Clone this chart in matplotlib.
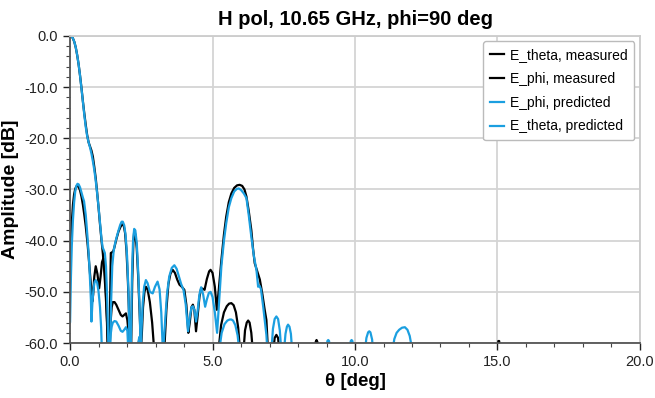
import numpy as np
import matplotlib
matplotlib.use('Agg')
import matplotlib.pyplot as plt
from matplotlib.ticker import MultipleLocator, FormatStrFormatter

plt.rcParams['font.family'] = ['Liberation Sans', 'DejaVu Sans']

# cross-pol, measured
th_theta_meas = [0.0, 0.03, 0.06, 0.1, 0.14, 0.18, 0.22, 0.26, 0.3, 0.35, 0.4, 0.45, 0.5, 0.55, 0.62,
                 0.7, 0.75, 0.78, 0.81, 0.85, 0.9, 0.96, 1.02, 1.07, 1.12, 1.17, 1.21, 1.25, 1.29, 1.32,
                 1.39, 1.42, 1.46, 1.5, 1.56, 1.62, 1.7, 1.78, 1.84, 1.9, 1.96, 2.01, 2.06, 2.1,
                 2.38, 2.41, 2.43, 2.45, 2.48,
                 5.2, 5.3, 5.4, 5.5, 5.58, 5.66, 5.74, 5.82, 5.9, 5.97,
                 6.08, 6.14, 6.2, 6.25, 6.3, 6.36, 6.42]
db_theta_meas = [-45.7, -40.5, -36.5, -33.0, -31.0, -29.9, -29.4, -29.3, -29.5, -30.2, -31.4, -33.0, -35.0, -37.2, -41.0,
                 -46.5, -49.8, -51.9, -50.5, -47.0, -45.0, -46.5, -49.3, -47.0, -44.2, -43.4, -45.0, -49.0, -55.0, -61.0,
                 -61.0, -56.0, -53.0, -52.0, -52.0, -52.5, -53.5, -54.5, -54.8, -54.5, -54.2, -55.5, -58.5, -62.0,
                 -62.0, -59.8, -59.2, -59.8, -62.0,
                 -62.0, -56.5, -54.0, -52.8, -52.3, -52.2, -52.6, -54.0, -57.0, -62.0,
                 -62.0, -57.5, -56.0, -55.6, -56.0, -58.0, -62.0]

# co-pol, measured
th_phi_meas = [0.0, 0.05, 0.1, 0.15, 0.2, 0.25, 0.3, 0.35, 0.4, 0.45, 0.5, 0.55, 0.6, 0.65, 0.7,
               0.75, 0.8, 0.85, 0.9, 0.95, 1.0, 1.05, 1.1, 1.15, 1.2, 1.25, 1.3, 1.34,
               1.38, 1.41, 1.43, 1.47, 1.52, 1.56, 1.62, 1.7, 1.78, 1.84, 1.88, 1.93, 1.98, 2.03, 2.08, 2.11,
               2.14, 2.18, 2.22, 2.25, 2.29, 2.34, 2.39, 2.44, 2.49,
               2.52, 2.56, 2.61, 2.66, 2.72, 2.8, 2.88, 2.96,
               3.3, 3.38, 3.45, 3.52, 3.6, 3.68, 3.76, 3.84, 3.92, 4.01, 4.08, 4.15,
               4.2, 4.26, 4.31, 4.36, 4.42, 4.48, 4.54, 4.6, 4.66, 4.72, 4.8, 4.88, 4.93, 5.0, 5.08, 5.15,
               5.22, 5.31, 5.4, 5.48, 5.57, 5.66, 5.76, 5.86, 5.95, 6.04, 6.12, 6.19, 6.27, 6.36, 6.42,
               6.48, 6.57, 6.66, 6.75, 6.83, 6.89, 6.95,
               7.12, 7.18, 7.24, 7.3, 7.35,
               8.58, 8.62, 8.65, 8.68, 8.72,
               15.0, 15.03, 15.06, 15.09]
db_phi_meas = [0.0, -0.1, -0.5, -1.2, -2.3, -3.8, -5.6, -7.8, -10.2, -12.8, -15.2, -17.4, -19.4, -20.8, -21.6,
               -22.4, -23.6, -25.6, -27.8, -30.6, -33.6, -36.8, -39.8, -42.5, -46.0, -50.5, -56.0, -62.0,
               -62.0, -50.0, -42.4, -42.3, -42.0, -41.2, -39.8, -38.2, -37.2, -36.8, -37.0, -38.5, -42.0, -48.0, -56.0, -62.0,
               -62.0, -48.0, -40.5, -38.2, -38.8, -41.5, -47.0, -54.0, -61.0,
               -58.0, -53.0, -50.0, -49.0, -49.5, -52.0, -56.0, -62.0,
               -62.0, -53.5, -48.5, -46.5, -45.7, -46.3, -47.6, -48.6, -49.0, -49.6, -52.5, -58.0,
               -56.0, -53.0, -52.5, -53.5, -57.7, -54.5, -51.0, -49.3, -49.4, -49.6, -47.5, -46.0, -45.7, -46.3, -49.0, -53.5,
               -49.5, -43.8, -38.8, -35.3, -32.5, -30.8, -29.7, -29.2, -29.1, -29.3, -30.0, -31.4, -34.2, -37.9, -41.5,
               -44.4, -46.0, -47.6, -50.5, -53.5, -55.5, -62.0,
               -62.0, -59.0, -58.4, -59.0, -62.0,
               -62.0, -59.8, -59.4, -59.8, -62.0,
               -62.0, -59.6, -59.6, -62.0]

# co-pol, predicted
th_phi_pred = [0.0, 0.05, 0.1, 0.15, 0.2, 0.25, 0.3, 0.35, 0.4, 0.45, 0.5, 0.55, 0.6, 0.65, 0.7,
               0.75, 0.8, 0.85, 0.9, 0.95, 1.0, 1.05, 1.1, 1.14, 1.18, 1.22, 1.26, 1.3, 1.35,
               1.4, 1.44, 1.48, 1.53, 1.58, 1.64, 1.7, 1.76, 1.81, 1.85, 1.9, 1.95, 2.0, 2.05, 2.09,
               2.13, 2.17, 2.21, 2.25, 2.29, 2.34, 2.39, 2.44, 2.48,
               2.51, 2.55, 2.6, 2.66, 2.72, 2.8, 2.9, 2.98, 3.07, 3.14, 3.2, 3.26,
               3.32, 3.4, 3.48, 3.57, 3.66, 3.74, 3.82, 3.9, 3.98, 4.06, 4.14,
               4.2, 4.26, 4.31, 4.36, 4.42, 4.48, 4.54, 4.6, 4.67, 4.74, 4.8, 4.87, 4.93, 5.0, 5.08, 5.16,
               5.23, 5.31, 5.4, 5.48, 5.57, 5.66, 5.76, 5.85, 5.92, 6.0, 6.1, 6.19, 6.27, 6.36, 6.45,
               6.54, 6.6, 6.65, 6.7, 6.78, 6.85, 6.89, 6.93,
               7.06, 7.12, 7.18, 7.24, 7.3, 7.36, 7.42,
               7.5, 7.56, 7.61, 7.65, 7.7, 7.75, 7.8,
               9.0, 9.03, 9.06, 9.09, 9.12,
               9.82, 9.85, 9.88, 9.91, 9.94,
               10.34, 10.4, 10.46, 10.5, 10.54, 10.6, 10.64,
               11.3, 11.38, 11.46, 11.55, 11.65, 11.75, 11.84, 11.92, 11.98, 12.03]
db_phi_pred = [0.0, -0.1, -0.5, -1.2, -2.3, -3.8, -5.6, -7.8, -10.3, -13.0, -15.5, -17.8, -19.6, -20.8, -21.8,
               -23.0, -24.5, -26.2, -28.3, -30.8, -33.5, -36.5, -39.5, -41.3, -41.8, -42.4, -45.0, -51.0, -62.0,
               -62.0, -52.0, -45.0, -42.0, -40.5, -39.2, -38.0, -36.9, -36.3, -36.3, -37.0, -39.0, -43.0, -50.0, -62.0,
               -62.0, -47.0, -40.0, -37.7, -38.0, -40.5, -46.0, -53.0, -62.0,
               -57.0, -52.0, -49.0, -47.7, -48.3, -50.0, -50.3, -49.0, -48.0, -49.5, -54.0, -62.0,
               -57.0, -50.5, -47.0, -45.3, -44.8, -45.5, -47.0, -48.5, -49.6, -52.5, -57.7,
               -55.0, -53.0, -52.8, -53.5, -55.8, -53.5, -50.5, -49.1, -50.5, -52.9, -51.5, -50.2, -50.0, -51.0, -54.0, -58.0,
               -52.0, -45.0, -40.0, -36.6, -33.5, -31.7, -30.4, -29.9, -29.8, -30.1, -30.8, -31.7, -35.0, -39.2, -43.0,
               -45.7, -49.0, -48.8, -49.5, -53.0, -56.5, -58.4, -62.0,
               -62.0, -57.2, -55.3, -54.8, -55.3, -57.5, -62.0,
               -62.0, -58.2, -56.8, -56.4, -56.8, -58.2, -62.0,
               -62.0, -59.6, -59.4, -59.6, -62.0,
               -62.0, -59.6, -59.4, -59.6, -62.0,
               -62.0, -59.0, -57.9, -57.7, -57.9, -59.3, -62.0,
               -62.0, -59.2, -58.0, -57.4, -57.0, -56.9, -57.4, -58.6, -60.5, -62.0]

# cross-pol, predicted
th_theta_pred = [0.0, 0.03, 0.06, 0.1, 0.14, 0.18, 0.22, 0.26, 0.3, 0.35, 0.4, 0.45, 0.49, 0.55, 0.61,
                 0.66, 0.7, 0.73, 0.75, 0.78, 0.82, 0.86, 0.9, 0.95, 1.0, 1.05, 1.09, 1.12,
                 1.38, 1.42, 1.46, 1.5, 1.56, 1.62, 1.7, 1.78, 1.84, 1.9, 1.96, 2.01, 2.05,
                 2.38, 2.41, 2.43, 2.45, 2.48,
                 5.22, 5.32, 5.42, 5.52, 5.6, 5.66, 5.72, 5.8, 5.88, 5.95]
db_theta_pred = [-55.8, -47.0, -41.0, -36.0, -32.6, -30.4, -29.3, -28.9, -29.0, -29.6, -30.6, -31.6, -32.3, -35.0, -39.2,
                 -43.2, -47.7, -51.5, -55.8, -52.5, -49.5, -48.1, -47.7, -48.2, -50.0, -53.0, -57.0, -62.0,
                 -62.0, -58.5, -56.8, -56.0, -55.7, -55.8, -56.6, -57.6, -57.8, -57.4, -56.9, -57.6, -62.0,
                 -62.0, -59.4, -58.8, -59.4, -62.0,
                 -62.0, -58.0, -56.3, -55.6, -55.4, -55.4, -55.6, -56.5, -58.5, -62.0]

black = '#000000'
blue = '#1b9fe0'

fig = plt.figure(figsize=(6.55, 3.98), dpi=100)
ax = fig.add_axes([0.107, 0.138, 0.870, 0.772])

ax.plot(th_theta_meas, db_theta_meas, color=black, lw=1.6, label='E_theta, measured')
ax.plot(th_phi_meas, db_phi_meas, color=black, lw=1.6, label='E_phi, measured')
ax.plot(th_phi_pred, db_phi_pred, color=blue, lw=1.6, label='E_phi, predicted')
ax.plot(th_theta_pred, db_theta_pred, color=blue, lw=1.6, label='E_theta, predicted')

ax.set_xlim(0, 20)
ax.set_ylim(-60, 0)
ax.xaxis.set_major_locator(MultipleLocator(5))
ax.xaxis.set_minor_locator(MultipleLocator(1))
ax.yaxis.set_major_locator(MultipleLocator(10))
ax.yaxis.set_minor_locator(MultipleLocator(2))
ax.xaxis.set_major_formatter(FormatStrFormatter('%.1f'))
ax.yaxis.set_major_formatter(FormatStrFormatter('%.1f'))
ax.tick_params(axis='both', which='major', direction='out', length=5, width=1, labelsize=10.5, colors='#222222')
ax.tick_params(axis='both', which='minor', direction='out', length=3, width=0.8, colors='#444444')
ax.grid(True, which='major', color='#d4d4d4', lw=1.3)
ax.set_axisbelow(True)

for side in ['top', 'right']:
    ax.spines[side].set_color('#cccccc')
    ax.spines[side].set_linewidth(1.3)
for side in ['left', 'bottom']:
    ax.spines[side].set_color('#555555')
    ax.spines[side].set_linewidth(1.3)

ax.set_xlabel('θ [deg]', fontsize=13.5, fontweight='bold', labelpad=3)
ax.set_ylabel('Amplitude [dB]', fontsize=14, fontweight='bold', labelpad=4)
ax.set_title('H pol, 10.65 GHz, phi=90 deg', fontsize=14.5, fontweight='bold', pad=8)

leg = ax.legend(loc='upper right', fontsize=10, handlelength=1.0, handletextpad=0.4,
                borderpad=0.5, labelspacing=0.7, fancybox=True, framealpha=1,
                edgecolor='#bbbbbb', borderaxespad=0.4)

fig.savefig('out.png', dpi=100)
